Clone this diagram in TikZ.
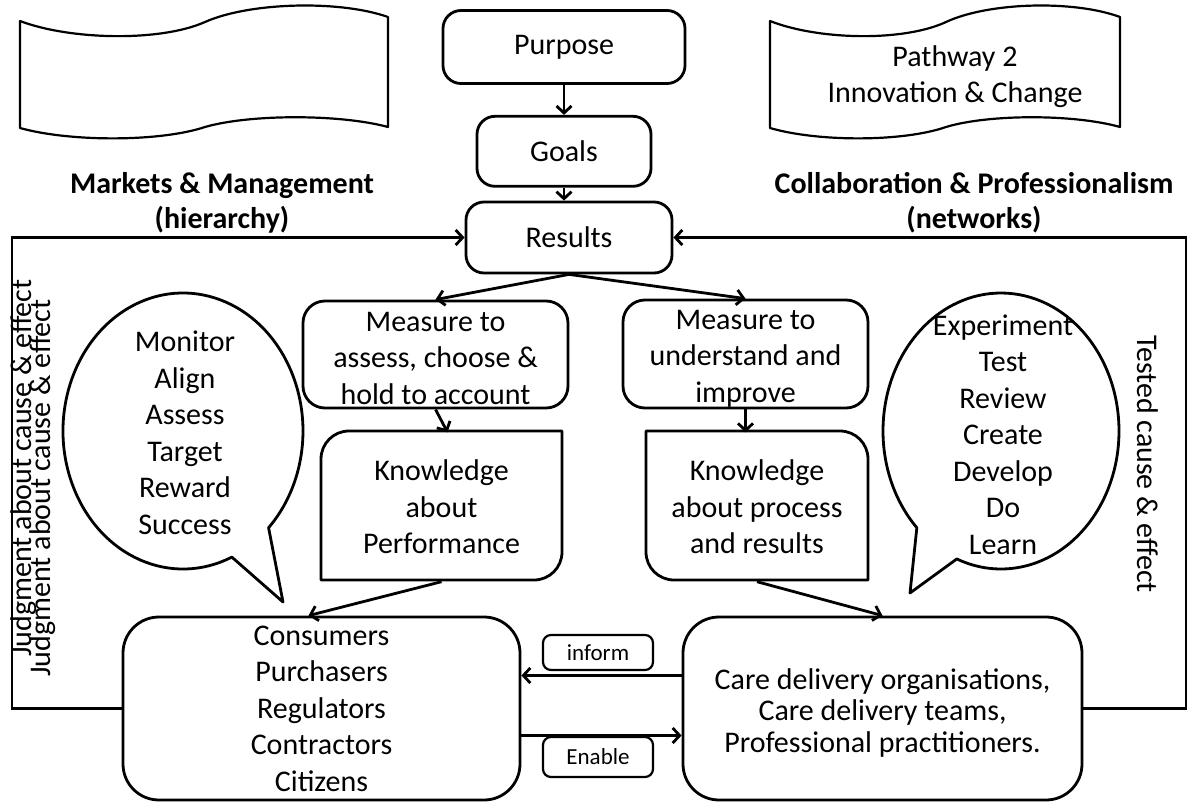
\documentclass[tikz,border=0pt]{standalone}
\usepackage{fontspec}
\setmainfont{Carlito}
\usetikzlibrary{arrows.meta,positioning}

\begin{document}
\begin{tikzpicture}
[x=1pt,y=-1pt,
txt/.style={align=center,inner sep=0pt,font=\fontsize{30}{36.5}\selectfont},
box/.style={txt,shape=rectangle,draw=black,line width=2.8pt,rounded corners=18pt},
bigbox/.style={box,rounded corners=36pt},
tag/.style={box,rounded corners=8pt,line width=2.2pt,font=\fontsize{23}{27}\selectfont},
heading/.style={txt,font=\bfseries\fontsize{30}{35}\selectfont},
outline/.style={line width=2.8pt,line join=round},
scroll/.style={line width=2.2pt,line join=round},
dedge/.style={-{Straight Barb[length=7pt,width=15pt]},line width=2.8pt}]

\useasboundingbox (0,0) rectangle (1194,803);

\draw[scroll] (20,21) .. controls (70,40) and (160,42) .. (205,22) .. controls (250,2) and (340,0) .. (388,17)
-- (388,127) .. controls (340,114) and (250,114) .. (205,127) .. controls (160,142) and (70,142) .. (20,128) -- cycle;
\draw[scroll] (770,21) .. controls (818,40) and (903,42) .. (946,22) .. controls (989,2) and (1074,0) .. (1120,17)
-- (1120,127) .. controls (1074,114) and (989,114) .. (946,127) .. controls (903,142) and (818,142) .. (770,128) -- cycle;
\node (path2) [txt] at (955,76.5) {Pathway 2\\Innovation \& Change};

\node (mkt) [heading] at (222,203) {Markets \& Management\\(hierarchy)};
\node (collab) [heading] at (974,203) {Collaboration \& Professionalism\\(networks)};

\node (pur) [box,minimum width=242pt,minimum height=73pt] at (564,47) {Purpose};
\node (goals) [box,minimum width=174pt,minimum height=70pt,below=30pt of pur] {Goals};
\node (res) [box,minimum width=206pt,minimum height=71pt] at (569,237.5) {Results};

\node (mleft) [box,minimum width=265pt,minimum height=107pt,rounded corners=22pt] at (435.5,354.5) {\rule{0pt}{27pt}Measure to\\assess, choose \&\\hold to account};
\node (mright) [box,minimum width=245pt,minimum height=108pt,rounded corners=22pt] at (745.5,354) {\rule{0pt}{28pt}Measure to\\understand and\\improve};

\node (kperf) [txt,minimum width=241pt,minimum height=149pt] at (441.5,507) {Knowledge\\about\\Performance};
\draw[outline] (562,431) -- (562,552) .. controls (562,567.5) and (549.5,580) .. (534,580) -- (321,580)
-- (321,459) .. controls (321,443.5) and (333.5,431) .. (349,431) -- cycle;
\node (kproc) [txt,minimum width=222pt,minimum height=149pt] at (757,507) {Knowledge\\about process\\and results};
\draw[outline] (646,431) -- (840,431) .. controls (855.5,431) and (868,443.5) .. (868,459) -- (868,580)
-- (674,580) .. controls (658.5,580) and (646,567.5) .. (646,552) -- cycle;

\node (judge) [txt] at (185,433) {Monitor\\Align\\Assess\\Target\\Reward\\Success};
\draw[outline] ({183+120*cos(66)},{431+138*sin(66)}) arc[start angle=66,end angle=404.5,x radius=120,y radius=138]
-- (283,602) -- cycle;
\node (learn) [txt] at (1003,434.5) {Experiment\\Test\\Review\\Create\\Develop\\Do\\Learn};
\draw[outline] ({1001+118*cos(135.5)},{431+138*sin(135.5)}) arc[start angle=135.5,end angle=472,x radius=118,y radius=138]
-- (910,593) -- cycle;

\node (cons) [bigbox,minimum width=397pt,minimum height=183pt] at (321.5,708.5) {Consumers\\Purchasers\\Regulators\\Contractors\\Citizens};
\node (care) [bigbox,minimum width=399pt,minimum height=183pt,font=\fontsize{30}{31.5}\selectfont] at (882.5,708.5) {\rule{0pt}{29pt}Care delivery organisations,\\Care delivery teams,\\Professional practitioners.};
\node (inform) [tag,minimum width=110pt,minimum height=35pt] at (598,652.5) {inform};
\node (enable) [tag,minimum width=110pt,minimum height=40pt] at (598,757) {Enable};

\node (judgeside) [txt,rotate=90] at (24,468) {Judgment about cause \& effect};
\node (judgeside2) [txt,rotate=90] at (43,488) {Judgment about cause \& effect};
\node (testside) [txt,rotate=-90] at (1148,464) {Tested cause \& effect};

\coordinate (lcorner) at (12,708.5);
\coordinate (rcorner) at (1186,708.5);

\draw[dedge] (pur.south) -- (goals.north);
\draw[dedge] (goals.south) -- (goals.south |- res.north);
\draw[dedge] (res.south) -- (mleft.north);
\draw[dedge] (res.south) -- (mright.north);
\draw[dedge] (mleft.south) -- ([xshift=6pt]kperf.north);
\draw[dedge] (mright.south) -- (mright.south |- kproc.north);
\draw[dedge] (kperf.south) -- ([xshift=-13pt]cons.north);
\draw[dedge] (kproc.south) -- (care.north);
\draw[dedge] (cons.west) -- (lcorner) |- (res.west);
\draw[dedge] (care.east) -- (rcorner) |- (res.east);
\draw[dedge] ([yshift=33pt]care.west) -- ([yshift=33pt]cons.east);
\draw[dedge] ([yshift=-27pt]cons.east) -- ([yshift=-27pt]care.west);

\end{tikzpicture}
\end{document}
